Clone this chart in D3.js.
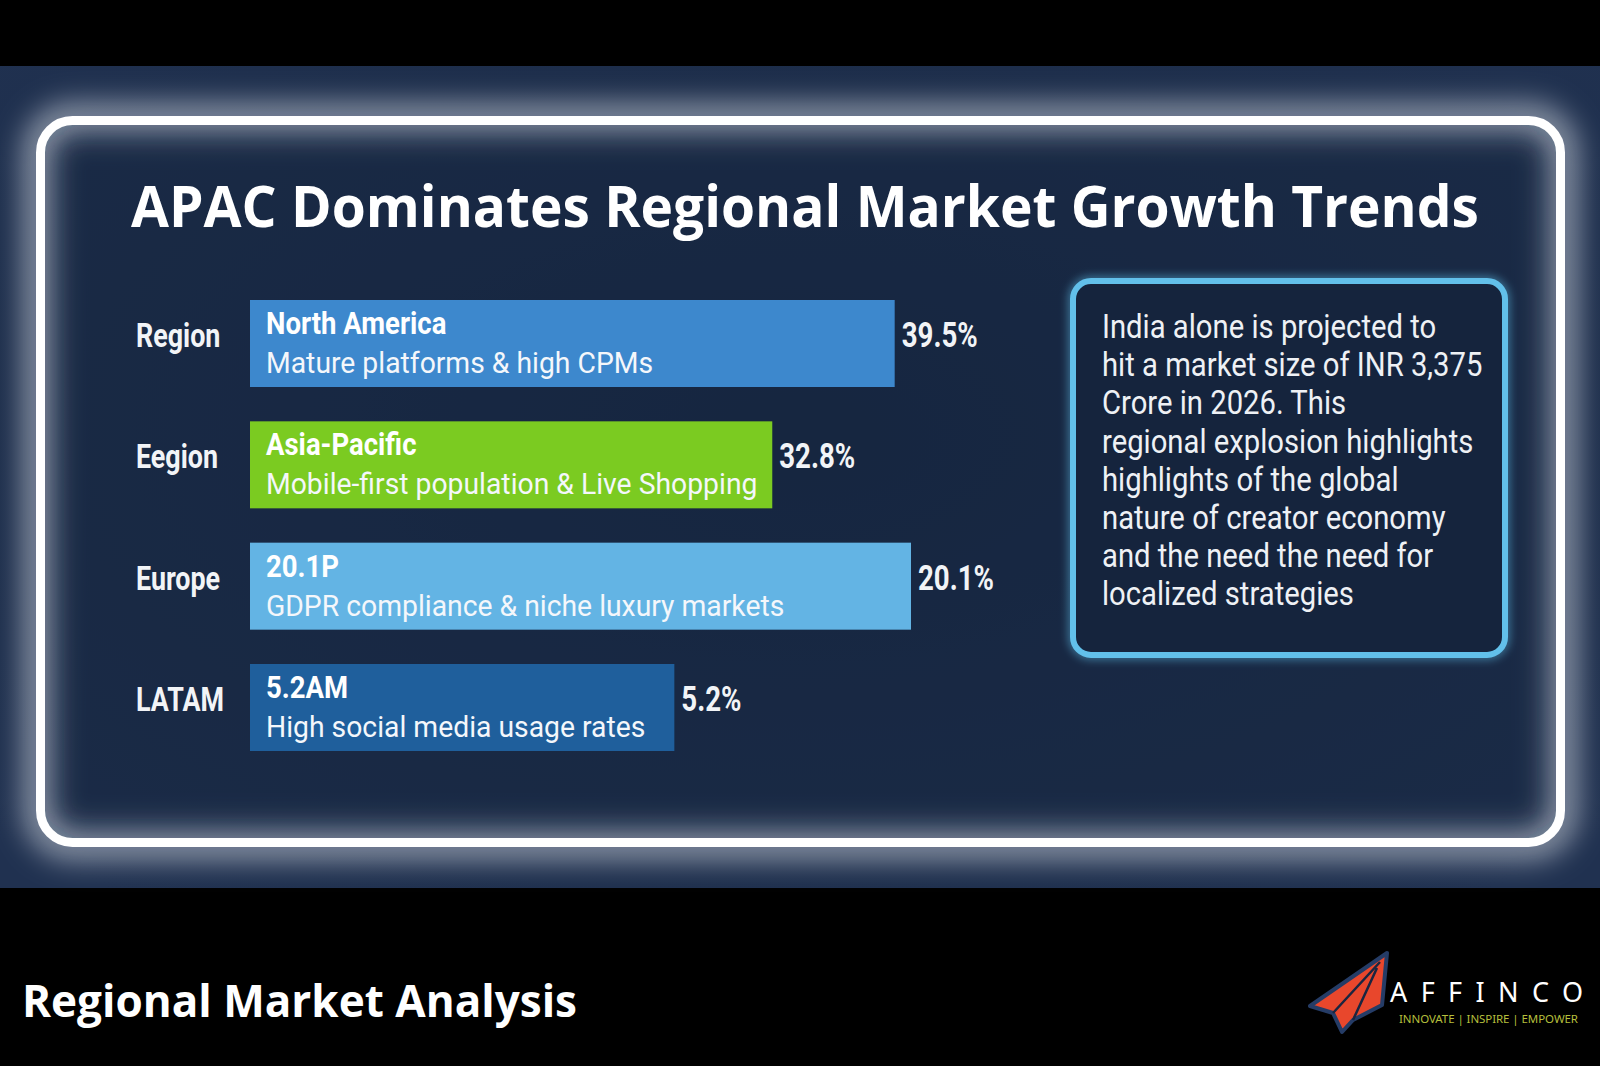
<!DOCTYPE html>
<html>
<head>
<meta charset="utf-8">
<script src="https://cdn.jsdelivr.net/npm/d3@7"></script>
<style>
  html, body { margin: 0; padding: 0; background: #000; }
  svg { display: block; }
</style>
</head>
<body>
<div id="chart"></div>
<script>
// labels and values as they appear on the picture
var regionLabels = ["Region", "Eegion", "Europe", "LATAM"]
var barTitles = ["North America", "Asia-Pacific", "20.1P", "5.2AM"]
var barNotes = [
  "Mature platforms & high CPMs",
  "Mobile-first population & Live Shopping",
  "GDPR compliance & niche luxury markets",
  "High social media usage rates"
]
var shareValues = [39.5, 32.8, 20.1, 5.2]
// the drawn bars do not follow the printed shares, so their lengths are read separately
var barLengths = [39.5, 32.0, 40.5, 26.0]
var barColors = ["#3d88cd", "#7bcb21", "#63b4e4", "#1f5f9c"]

var noteLines = [
  "India alone is projected to",
  "hit a market size of INR 3,375",
  "Crore in 2026. This",
  "regional explosion highlights",
  "highlights of the global",
  "nature of creator economy",
  "and the need the need for",
  "localized strategies"
]

var width = 1600, height = 1066

var svg = d3.select("#chart").append("svg")
    .attr("width", width)
    .attr("height", height)

var defs = svg.append("defs")
defs.append("filter").attr("id", "glow")
    .attr("x", "-10%").attr("y", "-10%").attr("width", "120%").attr("height", "120%")
  .append("feGaussianBlur").attr("stdDeviation", 14)
defs.append("filter").attr("id", "softglow")
    .attr("x", "-10%").attr("y", "-10%").attr("width", "120%").attr("height", "120%")
  .append("feGaussianBlur").attr("stdDeviation", 4)

var bg = defs.append("radialGradient").attr("id", "panelbg")
    .attr("cx", "50%").attr("cy", "45%").attr("r", "70%")
bg.append("stop").attr("offset", "0%").attr("stop-color", "#172741")
bg.append("stop").attr("offset", "100%").attr("stop-color", "#203150")

// page
svg.append("rect").attr("width", width).attr("height", height).attr("fill", "#000")
svg.append("rect")
    .attr("x", 0).attr("y", 66).attr("width", width).attr("height", 822)
    .attr("fill", "url(#panelbg)")

// glowing frame
var frame = {x: 40.5, y: 120.5, w: 1520, h: 722, r: 32}
svg.append("rect")
    .attr("x", frame.x).attr("y", frame.y).attr("width", frame.w).attr("height", frame.h)
    .attr("rx", frame.r)
    .attr("fill", "none").attr("stroke", "#cdd4de").attr("stroke-opacity", 0.6)
    .attr("stroke-width", 36)
    .attr("filter", "url(#glow)")
svg.append("rect")
    .attr("x", frame.x + 14).attr("y", frame.y + 14).attr("width", frame.w - 28).attr("height", frame.h - 28)
    .attr("rx", frame.r - 10)
    .attr("fill", "#172640").attr("opacity", 0.55)
    .attr("filter", "url(#glow)")
svg.append("rect")
    .attr("x", frame.x).attr("y", frame.y).attr("width", frame.w).attr("height", frame.h)
    .attr("rx", frame.r)
    .attr("fill", "none").attr("stroke", "#ffffff").attr("stroke-width", 9)

// title
svg.append("text")
    .attr("x", 805).attr("y", 227)
    .attr("text-anchor", "middle")
    .attr("font-family", "'Open Sans', sans-serif")
    .attr("font-weight", 700)
    .attr("font-size", 57)
    .attr("textLength", 1348)
    .attr("lengthAdjust", "spacingAndGlyphs")
    .attr("fill", "#fff")
    .text("APAC Dominates Regional Market Growth Trends")

// bars
var x = d3.scaleLinear().domain([0, 40.5]).range([250, 911])
var y = d3.scaleBand().domain(d3.range(regionLabels.length)).range([300, 751]).paddingInner(0.283)
var fmt = function(v) { return d3.format(".1f")(v) + "%" }
var condensed = 0.79

var rows = svg.append("g").selectAll("g")
    .data(regionLabels.map(function(d, i) {
      return {label: d, title: barTitles[i], note: barNotes[i], value: shareValues[i], len: barLengths[i], color: barColors[i], i: i}
    }))
  .enter().append("g")

rows.append("rect")
    .attr("x", x(0))
    .attr("y", function(d) { return y(d.i) })
    .attr("width", function(d) { return x(d.len) - x(0) })
    .attr("height", y.bandwidth())
    .attr("fill", function(d) { return d.color })

rows.append("text")
    .attr("transform", function(d) { return "translate(136," + (y(d.i) + 47) + ") scale(" + condensed + ",1)" })
    .attr("font-family", "Roboto, sans-serif").attr("font-weight", 700).attr("font-size", 34)
    .attr("fill", "#f2f4f7")
    .text(function(d) { return d.label })

rows.append("text")
    .attr("transform", function(d) { return "translate(266," + (y(d.i) + 34) + ") scale(0.86,1)" })
    .attr("font-family", "Roboto, sans-serif").attr("font-weight", 700).attr("font-size", 32)
    .attr("fill", "#fff")
    .text(function(d) { return d.title })

rows.append("text")
    .attr("transform", function(d) { return "translate(266," + (y(d.i) + 73) + ") scale(0.96,1)" })
    .attr("font-family", "Roboto, sans-serif").attr("font-weight", 400).attr("font-size", 29.5)
    .attr("fill", "#f4f7fb")
    .text(function(d) { return d.note })

rows.append("text")
    .attr("transform", function(d) { return "translate(" + (x(d.len) + 7) + "," + (y(d.i) + 47) + ") scale(" + condensed + ",1)" })
    .attr("font-family", "Roboto, sans-serif").attr("font-weight", 700).attr("font-size", 35)
    .attr("fill", "#f2f4f7")
    .text(function(d) { return fmt(d.value) })

// callout box
var box = {x: 1073, y: 281, w: 432, h: 374, r: 18}
svg.append("rect")
    .attr("x", box.x).attr("y", box.y).attr("width", box.w).attr("height", box.h).attr("rx", box.r)
    .attr("fill", "none").attr("stroke", "#5cbde8").attr("stroke-opacity", 0.5).attr("stroke-width", 10)
    .attr("filter", "url(#softglow)")
svg.append("rect")
    .attr("x", box.x).attr("y", box.y).attr("width", box.w).attr("height", box.h).attr("rx", box.r)
    .attr("fill", "#15243d").attr("stroke", "#62c0ea").attr("stroke-width", 6)

svg.append("g").selectAll("text")
    .data(noteLines)
  .enter().append("text")
    .attr("transform", function(d, i) { return "translate(1102," + (338 + i * 38.2) + ") scale(0.9,1)" })
    .attr("font-family", "Roboto, sans-serif").attr("font-size", 32.5)
    .attr("fill", "#eef1f5")
    .text(function(d) { return d })

// footer
svg.append("text")
    .attr("x", 22).attr("y", 1017)
    .attr("font-family", "'Open Sans', sans-serif").attr("font-weight", 700).attr("font-size", 45)
    .attr("textLength", 555).attr("lengthAdjust", "spacingAndGlyphs")
    .attr("fill", "#fff")
    .text("Regional Market Analysis")

// logo
var logo = svg.append("g")
logo.append("path")
    .attr("d", "M1387,953 L1310,1006 L1333,1013 L1342,1032 L1353,1020 L1382,1005 Z")
    .attr("fill", "#e8472c").attr("stroke", "#253c66").attr("stroke-width", 4).attr("stroke-linejoin", "round")
logo.append("path")
    .attr("d", "M1380,962 L1333,1013 M1377,968 L1353,1020")
    .attr("stroke", "#1a2540").attr("stroke-width", 2.5).attr("fill", "none")
logo.append("text")
    .attr("x", 1390).attr("y", 1002)
    .attr("font-family", "'Noto Sans', sans-serif").attr("font-size", 27)
    .attr("textLength", 193).attr("lengthAdjust", "spacing")
    .attr("fill", "#fff")
    .text("AFFINCO")
logo.append("text")
    .attr("x", 1399).attr("y", 1023)
    .attr("font-family", "'Noto Sans', sans-serif").attr("font-size", 11.5)
    .attr("textLength", 179).attr("lengthAdjust", "spacing")
    .attr("fill", "#b5bf3c")
    .text("INNOVATE | INSPIRE | EMPOWER")
</script>
</body>
</html>
